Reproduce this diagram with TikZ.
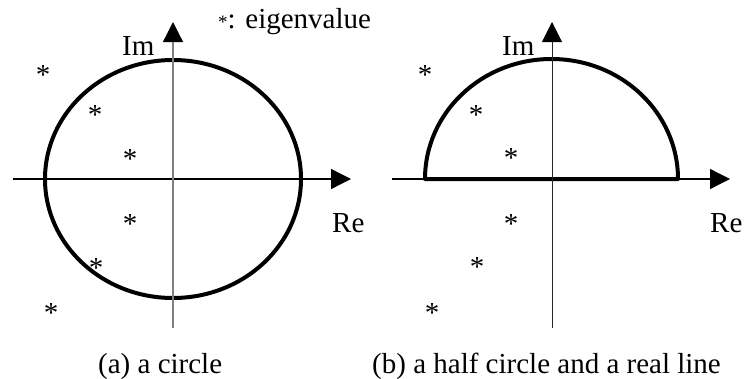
\documentclass[tikz,border=0pt]{standalone}
\usepackage{fontspec}
\setmainfont{Liberation Serif}
\usetikzlibrary{arrows.meta}
\begin{document}
\begin{tikzpicture}[x=1pt,y=-1pt,
  axis/.style={line width=1.3pt,-{Triangle[length=20pt,width=20pt,color=black]}},
  curve/.style={line width=4pt},
  lbl/.style={inner sep=0pt,anchor=base west,font=\fontsize{29}{34}\selectfont},
  eig/.style={inner sep=0pt,anchor=base,font=\fontsize{29}{34}\selectfont},
]
\useasboundingbox (0,0) rectangle (744,378);
% ---------- panel (a) ----------
\coordinate (aL) at (13,179);
\coordinate (aR) at (351,179);
\coordinate (aB) at (173,328);
\coordinate (aT) at (173,22);
\draw[curve] (173,179) ellipse [x radius=128, y radius=119];
\draw[axis] (aL) -- (aR);
\draw[axis,gray] (aB) -- (aT);
\node[lbl] (aIm) at (122,55) {Im};
\node[lbl] (aRe) at (332,232) {Re};
\node[eig] (a1) at (43,84) {*};
\node[eig] (a2) at (95,124) {*};
\node[eig] (a3) at (130,168) {*};
\node[eig] (a4) at (130,233) {*};
\node[eig] (a5) at (96,277) {*};
\node[eig] (a6) at (51,322) {*};
\node[lbl] (acap) at (98,373) {(a) a circle};
\node[lbl] (legend) at (218,28) {{\fontsize{19}{20}\selectfont *}: eigenvalue};
% ---------- panel (b) ----------
\coordinate (bL) at (392,179);
\coordinate (bR) at (730,179);
\coordinate (bB) at (552,328);
\coordinate (bT) at (552,22);
\draw[curve,line join=round] (425,179) arc[start angle=180,end angle=360,x radius=126.5,y radius=120] -- cycle;
\draw[axis] (bL) -- (bR);
\draw[axis,line width=1pt,black!85] (bB) -- (bT);
\node[lbl] (bIm) at (502,55) {Im};
\node[lbl] (bRe) at (710,232) {Re};
\node[eig] (b1) at (425,84) {*};
\node[eig] (b2) at (476,124) {*};
\node[eig] (b3) at (511,167) {*};
\node[eig] (b4) at (511,233) {*};
\node[eig] (b5) at (477,276) {*};
\node[eig] (b6) at (432,322) {*};
\node[lbl] (bcap) at (372,373) {(b) a half circle and a real line};
\end{tikzpicture}
\end{document}
